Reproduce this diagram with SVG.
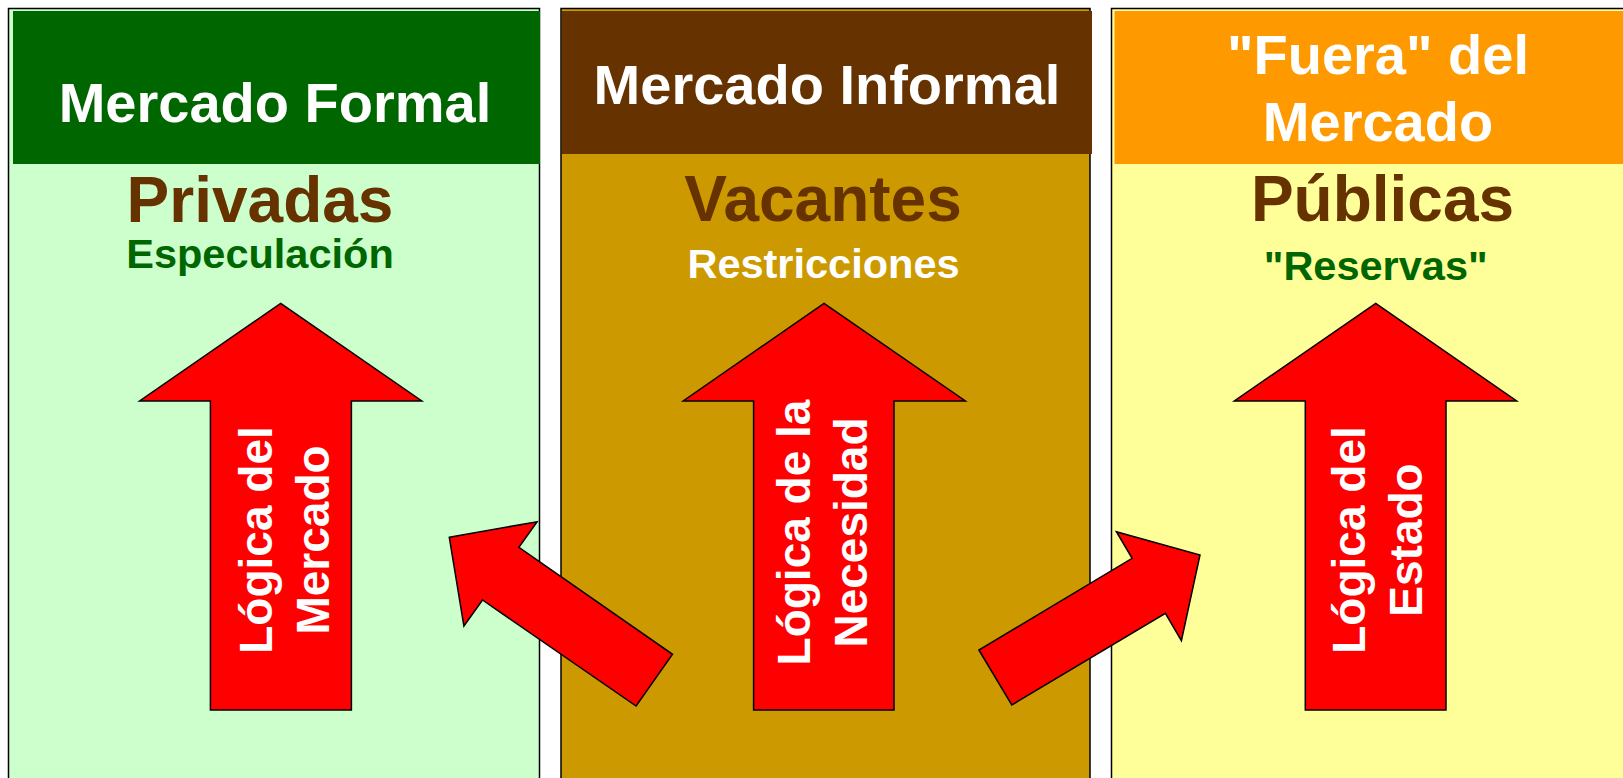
<svg xmlns="http://www.w3.org/2000/svg" width="1623" height="778" viewBox="0 0 1623 778">
<style>
.panel{stroke:#000;stroke-width:1.5}
.hdr{font-family:"Liberation Sans",Arial,sans-serif;font-weight:bold;font-size:56px;fill:#fff;text-anchor:middle}
.big{font-family:"Liberation Sans",Arial,sans-serif;font-weight:bold;font-size:64px;fill:#663300;text-anchor:middle}
.sub{font-family:"Liberation Sans",Arial,sans-serif;font-weight:bold;font-size:41.5px;text-anchor:middle}
.arr{fill:#ff0000;stroke:#000;stroke-width:1.5;stroke-linejoin:miter}
.atxt{font-family:"Liberation Sans",Arial,sans-serif;font-weight:bold;font-size:46px;fill:#fff;text-anchor:middle}
</style>
<rect x="0" y="0" width="1623" height="778" fill="#fff"/>
<g id="formal">
<rect class="panel" x="8.5" y="8.5" width="531" height="800" fill="#ccffcc"/>
<rect x="13" y="11" width="527" height="153" fill="#006600"/>
<text class="hdr" x="275" y="122">Mercado Formal</text>
<text class="big" x="260" y="221.5">Privadas</text>
<text class="sub" x="260" y="267.5" fill="#006600">Especulación</text>
<polygon class="arr" points="280.7,303.3 421.8,401 351.4,401 351.4,710 210.4,710 210.4,401 139.6,401"/>
<g transform="translate(0,540) rotate(-90)">
<text class="atxt" x="0" y="272">Lógica del</text>
<text class="atxt" x="0" y="329">Mercado</text>
</g>
</g>
<g id="informal">
<rect class="panel" x="561" y="8.5" width="529" height="800" fill="#cc9900"/>
<rect x="562" y="11" width="530" height="143" fill="#663300"/>
<text class="hdr" x="827" y="103.5">Mercado Informal</text>
<text class="big" x="823" y="221">Vacantes</text>
<text class="sub" x="823.5" y="277.5" fill="#fff">Restricciones</text>
<polygon class="arr" points="824,303.3 965.4,401 894,401 894,710 753.6,710 753.6,401 683.2,401"/>
<g transform="translate(0,532.5) rotate(-90)">
<text class="atxt" x="0" y="810">Lógica de la</text>
<text class="atxt" x="0" y="866.5">Necesidad</text>
</g>
</g>
<g id="fuera">
<rect class="panel" x="1111.5" y="8.5" width="540" height="800" fill="#ffff99"/>
<rect x="1114.5" y="11" width="520" height="153" fill="#ff9900"/>
<text class="hdr" x="1378" y="74">"Fuera" del</text>
<text class="hdr" x="1378" y="140.5">Mercado</text>
<text class="big" x="1382.5" y="221">Públicas</text>
<text class="sub" x="1375.7" y="280" fill="#006600">"Reservas"</text>
<polygon class="arr" points="1375.7,303.3 1516.7,401 1446,401 1446,710 1305.3,710 1305.3,401 1234.3,401"/>
<g transform="translate(0,540) rotate(-90)">
<text class="atxt" x="0" y="1365">Lógica del</text>
<text class="atxt" x="0" y="1421.7">Estado</text>
</g>
</g>
<g id="connectors">
<polygon class="arr" points="449.3,537.3 537.1,521.7 518.9,547.3 672.5,654.3 636.1,706 482.5,600 463.9,626"/>
<polygon class="arr" points="978.9,650 1011.8,705 1165.4,613.3 1181.4,640.7 1200,555 1116.4,531.7 1132.1,558.3"/>
</g>
</svg>
